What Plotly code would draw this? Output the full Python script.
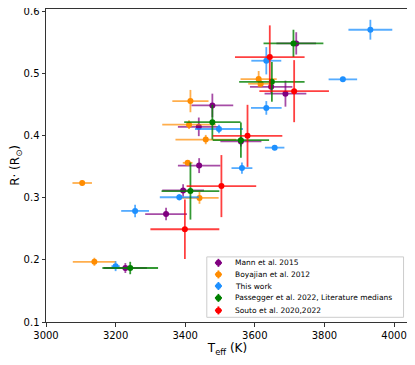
import plotly.graph_objects as go

# Mann et al. 2015
mann_teff = [3478, 3439, 3560, 3440, 3394, 3345, 3228, 3719, 3647, 3688]
mann_teff_err = [60, 60, 59, 61, 60, 60, 62, 57, 61, 60]
mann_r = [0.449, 0.4145, 0.391, 0.352, 0.312, 0.274, 0.187, 0.549, 0.479, 0.468]
mann_r_err = [0.019, 0.015, 0.008, 0.012, 0.010, 0.010, 0.008, 0.018, 0.010, 0.021]

# Boyajian et al. 2012
boy_teff = [3415, 3411, 3459, 3407, 3441, 3104, 3139, 3611, 3617]
boy_teff_err = [52, 77, 87, 14, 55, 28, 62, 52, 36]
boy_r = [0.456, 0.418, 0.394, 0.3565, 0.300, 0.324, 0.197, 0.4915, 0.484]
boy_r_err = [0.018, 0.007, 0.0075, 0.004, 0.0095, 0.004, 0.0065, 0.013, 0.006]

# This work
tw_teff = [3497, 3633, 3657, 3563, 3383, 3256, 3200, 3633, 3932, 3853]
tw_teff_err = [69, 44, 28, 30, 56, 40, 12, 43, 63, 41]
tw_r = [0.411, 0.445, 0.381, 0.348, 0.301, 0.279, 0.190, 0.521, 0.571, 0.491]
tw_r_err = [0.007, 0.011, 0.004, 0.009, 0.005, 0.010, 0.008, 0.022, 0.016, 0.004]

# Passegger et al. 2022, literature medians
pas_teff = [3478, 3560, 3415, 3242, 3711, 3649]
pas_teff_err = [81, 81, 83, 80, 86, 94]
pas_r = [0.422, 0.393, 0.311, 0.187, 0.549, 0.487]
pas_r_err = [0.028, 0.0285, 0.046, 0.010, 0.022, 0.032]

# Souto et al. 2020,2022
sou_teff = [3579, 3504, 3399, 3643, 3713]
sou_teff_err = [100, 100, 99, 100, 100]
sou_r = [0.400, 0.319, 0.2495, 0.527, 0.472]
sou_r_err = [0.05, 0.05, 0.048, 0.051, 0.05]

series = [
    ("Mann et al. 2015", mann_teff, mann_teff_err, mann_r, mann_r_err, "#800080", "rgba(128,0,128,0.7)"),
    ("Boyajian et al. 2012", boy_teff, boy_teff_err, boy_r, boy_r_err, "#FF8C00", "rgba(255,140,0,0.7)"),
    ("This work", tw_teff, tw_teff_err, tw_r, tw_r_err, "#1E90FF", "rgba(30,144,255,0.75)"),
    ("Passegger et al. 2022, Literature medians", pas_teff, pas_teff_err, pas_r, pas_r_err, "#008000", "rgba(0,128,0,0.8)"),
    ("Souto et al. 2020,2022", sou_teff, sou_teff_err, sou_r, sou_r_err, "#FF0000", "rgba(255,0,0,0.75)"),
]

fig = go.Figure()
for name, t, te, r, re, col, ecol in series:
    fig.add_trace(go.Scatter(
        x=t, y=r, mode="markers", name=name, showlegend=False,
        marker=dict(color=col, size=6, symbol="circle"),
        error_x=dict(type="data", array=te, color=ecol, thickness=1.8, width=0),
        error_y=dict(type="data", array=re, color=ecol, thickness=1.8, width=0),
    ))

# hand-drawn legend (plotly's rows are too tall for this size)
fig.add_shape(type="rect", xref="paper", yref="paper", x0=0.443, x1=0.985, y0=0.015, y1=0.208,
              line=dict(color="#ccc", width=1), fillcolor="rgba(255,255,255,0.85)", layer="above")
row_y = [0.189, 0.152, 0.115, 0.077, 0.037]
for (name, _, _, _, _, col, _), yy in zip(series, row_y):
    fig.add_shape(type="line", xref="paper", yref="paper", xsizemode="pixel", xanchor=0.475,
                  x0=-3.5, x1=3.5, y0=yy, y1=yy, line=dict(color=col, width=1.8), layer="above")
    fig.add_shape(type="line", xref="paper", yref="paper", xsizemode="pixel", ysizemode="pixel",
                  xanchor=0.475, yanchor=yy, x0=0, x1=0, y0=-4, y1=4,
                  line=dict(color=col, width=1.8), layer="above")
    fig.add_shape(type="circle", xref="paper", yref="paper", xsizemode="pixel", ysizemode="pixel",
                  xanchor=0.475, yanchor=yy, x0=-3, x1=3, y0=-3, y1=3,
                  line=dict(width=0), fillcolor=col, layer="above")
    fig.add_annotation(xref="paper", yref="paper", x=0.514, y=yy, text=name, showarrow=False,
                       xanchor="left", yanchor="middle", font=dict(size=7.5, color="black"))

axis_style = dict(showline=True, linecolor="#333", linewidth=1, mirror=True,
                  ticks="outside", ticklen=3.5, tickcolor="#333", showgrid=False,
                  zeroline=False, automargin=False, ticklabeloverflow="allow",
                  tickfont=dict(size=10, color="black"))

fig.update_xaxes(range=[3000, 4043], tickvals=[3000, 3200, 3400, 3600, 3800, 4000],
                 title=dict(text="T<sub>eff</sub> (K)", font=dict(size=12, color="black"), standoff=4),
                 **axis_style)
fig.update_yaxes(range=[0.1, 0.6044], tickvals=[0.1, 0.2, 0.3, 0.4, 0.5, 0.6],
                 tickformat=".1f",
                 title=dict(text="R· (R<sub>⊙</sub>)", font=dict(size=12, color="black"), standoff=4),
                 **axis_style)

# the page body adds 8px, so margins are trimmed to match the reference position
fig.update_layout(
    width=415, height=365,
    margin=dict(l=38, r=14, t=1, b=51),
    plot_bgcolor="white", paper_bgcolor="white",
    font=dict(family="DejaVu Sans", color="black"),
    showlegend=False,
)

fig.write_html("out.html")
